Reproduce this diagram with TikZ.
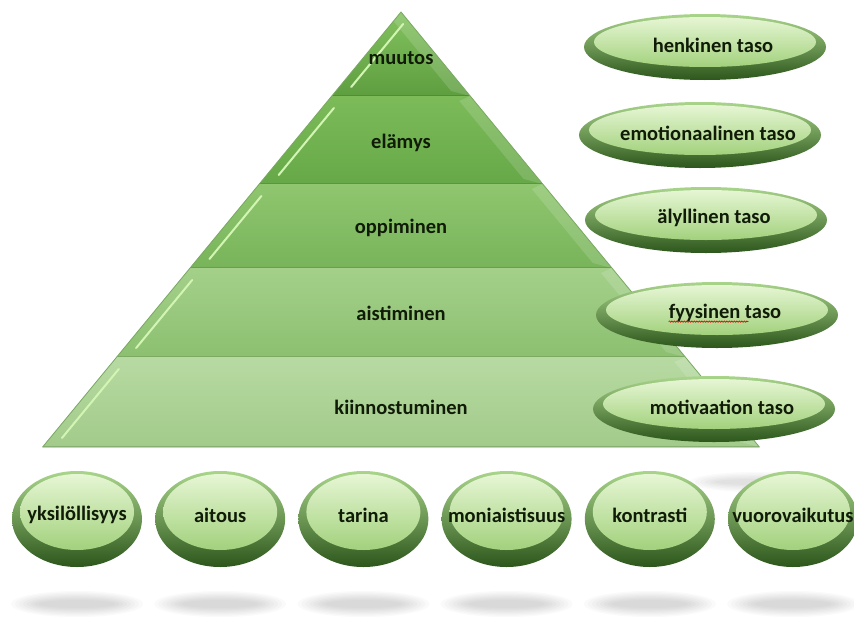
\documentclass[tikz,border=0pt]{standalone}
\usepackage{fontspec}
\setmainfont{Carlito}
\usetikzlibrary{calc,decorations.pathmorphing}
\definecolor{teksti}{HTML}{101B08}
\definecolor{kerros1a}{HTML}{84C25F}\definecolor{kerros1b}{HTML}{5E9E40}
\definecolor{kerros2a}{HTML}{7DBB59}\definecolor{kerros2b}{HTML}{66A848}
\definecolor{kerros3a}{HTML}{8FC66F}\definecolor{kerros3b}{HTML}{78B45A}
\definecolor{kerros4a}{HTML}{A4D08A}\definecolor{kerros4b}{HTML}{8CC070}
\definecolor{kerros5a}{HTML}{B7DAA2}\definecolor{kerros5b}{HTML}{A2CB8A}
\definecolor{reunavalo}{HTML}{A9D58B}\definecolor{reunatumma}{HTML}{2C561B}
\definecolor{pintavalo}{HTML}{E6F6D4}\definecolor{pintatumma}{HTML}{A2D17C}
\definecolor{korostus}{HTML}{D2F5B4}\definecolor{ulkoreuna}{HTML}{79A862}
\tikzset{
  kerros/.style={font=\fontsize{20.5}{24}\selectfont\bfseries,text=teksti,inner sep=0pt},
  reuna/.style={top color=reunavalo,bottom color=reunatumma},
  pinta/.style={top color=pintavalo,bottom color=pintatumma},
  varjo/.style={black!55,opacity=0.035},
  valoviiva/.style={korostus,line width=2pt,line cap=round}
}
\begin{document}
\begin{tikzpicture}[x=1pt,y=1pt]
\useasboundingbox (0,0) rectangle (854,-621);
\fill[white] (0,0) rectangle (854,-621);
% varjot
\foreach \k in {0,...,5} \fill[varjo] (755,-482) ellipse ({65-5*\k} and {10-1.4*\k});
\foreach \i in {0,...,5}{
  \foreach \k in {0,...,7} \fill[varjo] ({77+143.2*\i},-604) ellipse ({66-4*\k} and {13-1.3*\k});
}
% pyramidi
\foreach \ya/\yb/\tc/\bc/\nimi/\teksti/\ty in {12/96/kerros1a/kerros1b/muutos/muutos/58,
    96/184/kerros2a/kerros2b/elamys/elämys/143, 184/268/kerros3a/kerros3b/oppiminen/oppiminen/228,
    268/357/kerros4a/kerros4b/aistiminen/aistiminen/313, 357/447/kerros5a/kerros5b/kiinnostuminen/kiinnostuminen/407}{
  \pgfmathsetmacro\la{401-0.824*(\ya-12)}
  \pgfmathsetmacro\ra{401+0.824*(\ya-12)}
  \pgfmathsetmacro\lb{401-0.824*(\yb-12)}
  \pgfmathsetmacro\rb{401+0.824*(\yb-12)}
  \shade[top color=\tc,bottom color=\bc] (\la,-\ya) -- (\ra,-\ya) -- (\rb,-\yb) -- (\lb,-\yb) -- cycle;
  \begin{scope}
    \clip (\la,-\ya) -- (\ra,-\ya) -- (\rb,-\yb) -- (\lb,-\yb) -- cycle;
    \pgfmathsetmacro\rc{401+0.824*(\ya-7)-15}
    \pgfmathsetmacro\rd{401+0.824*(\yb-17)-15}
    \fill[white,opacity=0.14] (\ra,-\ya) -- (\rb,-\yb) -- (\rd,-\yb+5) -- (\rc,-\ya-5) -- cycle;
    \draw[draw=\bc!75!black,line width=2.5pt,opacity=0.45] (\lb,-\yb) -- (\rb,-\yb);
  \end{scope}
  \draw[valoviiva] ({401-0.824*\ya+12},{-\ya-12}) -- ({401-0.824*(\yb-21)+12},{-\yb+9});
  \node[kerros] (\nimi) at (401,-\ty) {\teksti};
}
\draw[ulkoreuna,line width=0.8pt,line join=round] (401,-12) -- (759.4,-447) -- (42.6,-447) -- cycle;
% alarivi
\foreach \nimi/\teksti [count=\i from 0] in {yksilollisyys/yksilöllisyys, aitous/aitous, tarina/tarina,
    moniaistisuus/moniaistisuus, kontrasti/kontrasti, vuorovaikutus/vuorovaikutus}{
  \pgfmathsetmacro\cx{77+143.2*\i}
  \shade[reuna] (\cx,-519) ellipse (65 and 48);
  \shade[pinta] (\cx,-512) ellipse (57 and 38);
  \node[kerros] (\nimi) at (\cx,-515) {\teksti};
}
% tasot oikealla
\foreach \cx/\cy/\nimi/\teksti in {705/47/henkinen/henkinen taso, 700/135/emotionaalinen/emotionaalinen taso,
    706/220/alyllinen/älyllinen taso, 717/315/fyysinen/fyysinen taso, 714/409/motivaatio/motivaation taso}{
  \shade[reuna] (\cx,-\cy) ellipse (121 and 33);
  \shade[pinta] (\cx,-\cy+5) ellipse (111 and 25);
  \node[kerros] (\nimi) at (\cx+8,-\cy+2) {\teksti};
}
\draw[red!85!black,line width=0.6pt,decorate,decoration={snake,amplitude=0.7pt,segment length=2.5pt}]
  ($(fyysinen.base west)+(0,-3)$) -- ++(80,0);
\end{tikzpicture}
\end{document}
